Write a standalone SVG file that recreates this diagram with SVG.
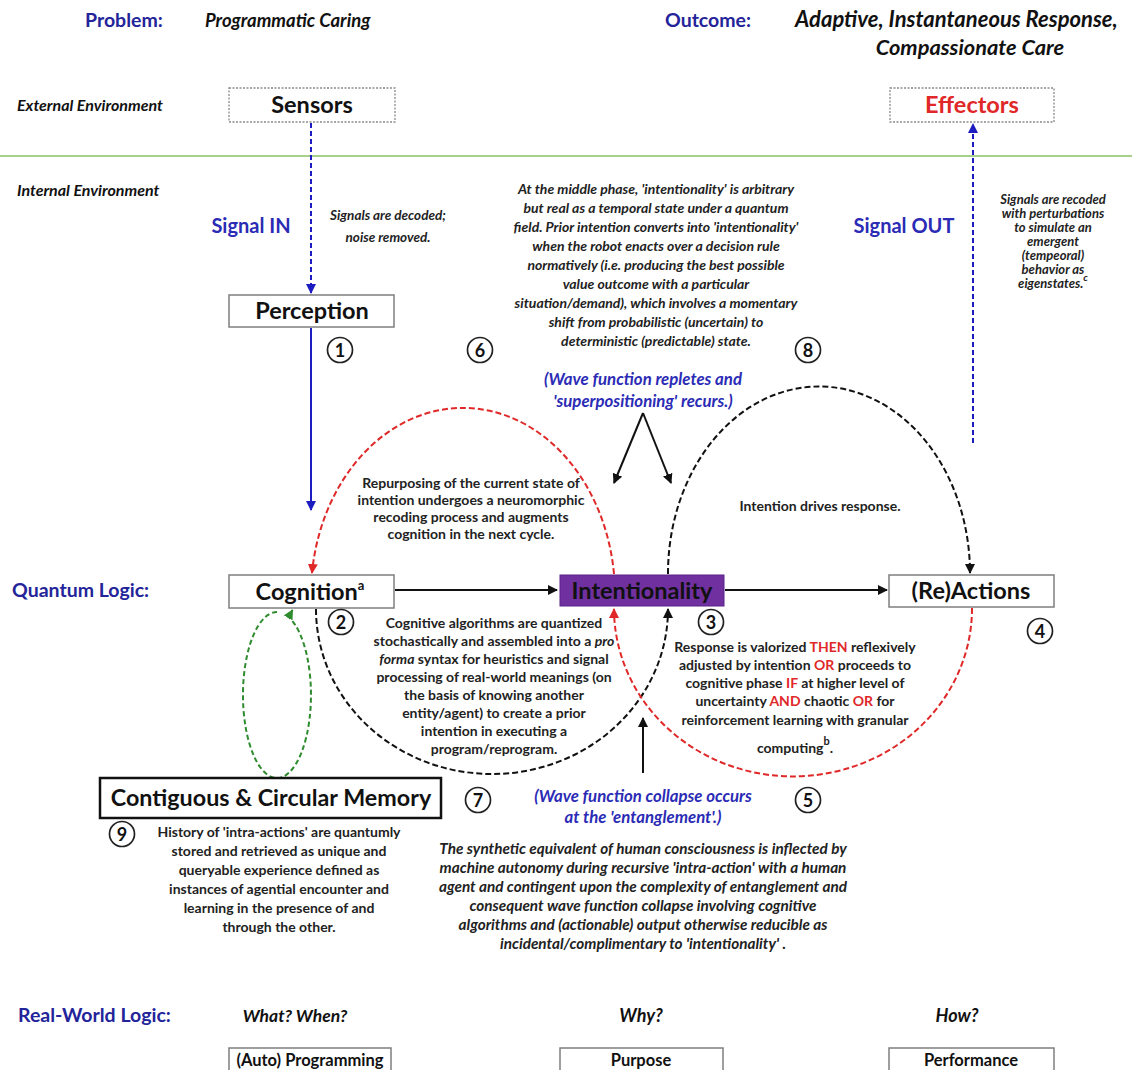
<svg xmlns="http://www.w3.org/2000/svg" width="1132" height="1070" viewBox="0 0 1132 1070">
<style>
.t{font-family:Lato,"Liberation Sans",sans-serif;font-weight:bold}
.i{font-style:italic}
.c{text-anchor:middle}
.p{font-size:14px;fill:#222}
.pi{fill:#222;font-style:italic}
.lbl{font-size:19.5px;fill:#24249a}
.sig{font-size:20px;fill:#2b2bb5}
.wave{font-size:16.8px;fill:#2b2bb5;font-style:italic}
.env{font-size:16px;fill:#111;font-style:italic}
.box{fill:#fff;stroke:#7f7f7f;stroke-width:1.5}
.dot{fill:#fff;stroke:#8a8a8a;stroke-width:1.3;stroke-dasharray:2 1.5}
.bl{font-size:23.5px;fill:#111}
.num circle{fill:#fff;stroke:#222;stroke-width:1.7}
.num text{font-size:18px;text-anchor:middle;fill:#111}
.red{fill:#e02828}
.cn{fill:none;stroke-width:2}
</style>
<defs>
<marker id="ab" viewBox="0 0 10 10" refX="9" refY="5" markerWidth="5" markerHeight="5" orient="auto"><path d="M0,0 L10,5 L0,10 z" fill="#111"/></marker>
<marker id="au" viewBox="0 0 10 10" refX="9" refY="5" markerWidth="5" markerHeight="5" orient="auto"><path d="M0,0 L10,5 L0,10 z" fill="#1c1cc0"/></marker>
<marker id="ar" viewBox="0 0 10 10" refX="9" refY="5" markerWidth="5" markerHeight="5" orient="auto"><path d="M0,0 L10,5 L0,10 z" fill="#e02828"/></marker>
<marker id="ag" viewBox="0 0 10 10" refX="9" refY="5" markerWidth="5" markerHeight="5" orient="auto"><path d="M0,0 L10,5 L0,10 z" fill="#2e8b2e"/></marker>
</defs>
<rect width="1132" height="1070" fill="#fff"/>

<!-- headers -->
<g class="t">
<text x="85" y="27" class="lbl">Problem:</text>
<text x="205" y="27" class="i" font-size="18.5" fill="#111">Programmatic Caring</text>
<text x="665" y="27" class="lbl">Outcome:</text>
<text x="795" y="27" class="i" font-size="22" fill="#111">Adaptive, Instantaneous Response,</text>
<text x="970" y="55" class="i c" font-size="21.8" fill="#111">Compassionate Care</text>
<text x="17" y="111" class="env">External Environment</text>
<text x="17" y="196" class="env">Internal Environment</text>
<text x="12" y="597" class="lbl">Quantum Logic:</text>
<text x="18" y="1022" class="lbl">Real-World Logic:</text>
<text x="295" y="1022" class="i c" font-size="17.5" fill="#111">What? When?</text>
<text x="641" y="1022" class="i c" font-size="18" fill="#111">Why?</text>
<text x="957" y="1022" class="i c" font-size="18" fill="#111">How?</text>
</g>
<line x1="0" y1="156" x2="1132" y2="156" stroke="#a8d08d" stroke-width="2"/>

<!-- connectors -->
<g id="connectors">
<line class="cn" x1="311" y1="123" x2="311" y2="293" stroke="#1c1cc0" stroke-dasharray="5 3" marker-end="url(#au)"/>
<line class="cn" x1="311" y1="328" x2="311" y2="510" stroke="#1c1cc0" marker-end="url(#au)"/>
<line class="cn" x1="973" y1="443" x2="973" y2="124" stroke="#1c1cc0" stroke-dasharray="5 3" marker-end="url(#au)"/>
<line class="cn" x1="395" y1="590" x2="557" y2="590" stroke="#111" marker-end="url(#ab)"/>
<line class="cn" x1="725" y1="590" x2="887" y2="590" stroke="#111" marker-end="url(#ab)"/>
<path class="cn" d="M614,574 A152 187 0 0 0 312,573" stroke="#e02828" stroke-dasharray="6 3" marker-end="url(#ar)"/>
<path class="cn" d="M668,574 A151 187 0 0 1 970,573" stroke="#111" stroke-dasharray="6 3" marker-end="url(#ab)"/>
<path class="cn" d="M316,609 A176 165 0 0 0 668,609" stroke="#111" stroke-dasharray="6 3" marker-end="url(#ab)"/>
<path class="cn" d="M972,608 A179 168 0 0 1 614,609" stroke="#e02828" stroke-dasharray="6 3" marker-end="url(#ar)"/>
<path class="cn" d="M277,612 A34 83 0 1 0 288.6,617 L292.5,610" stroke="#2e8b2e" stroke-dasharray="5 3" marker-end="url(#ag)"/>
<path class="cn" d="M643,413 L614,483" stroke="#111" marker-end="url(#ab)"/>
<path class="cn" d="M643,413 L671,483" stroke="#111" marker-end="url(#ab)"/>
<line class="cn" x1="643" y1="773" x2="643" y2="718" stroke="#111" marker-end="url(#ab)"/>
</g>

<!-- nodes -->
<g id="sensors" class="t"><rect class="dot" x="229" y="88" width="166" height="34"/><text x="312" y="113" class="bl c">Sensors</text></g>
<g id="effectors" class="t"><rect class="dot" x="890" y="88" width="164" height="34"/><text x="972" y="113" class="bl c red">Effectors</text></g>
<g id="perception" class="t"><rect class="box" x="229" y="295" width="165" height="32"/><text x="312" y="319" class="bl c">Perception</text></g>
<g id="cognition" class="t"><rect class="box" x="229" y="575" width="165" height="33"/><text x="310" y="600" class="bl c">Cognition<tspan font-size="13" dy="-10">a</tspan></text></g>
<g id="intentionality" class="t"><rect x="560" y="575" width="164" height="31" fill="#7030a0" stroke="#5b2387" stroke-width="1"/><text x="642" y="599" class="bl c" fill="#fff">Intentionality</text></g>
<g id="reactions" class="t"><rect class="box" x="889" y="575" width="165" height="32"/><text x="971" y="599" class="bl c">(Re)Actions</text></g>
<g id="memory" class="t"><rect x="100" y="778" width="341" height="40" fill="#fff" stroke="#111" stroke-width="2.5"/><text x="271" y="806" class="c" font-size="23.3" fill="#111">Contiguous &amp; Circular Memory</text></g>
<g id="programming" class="t"><rect class="box" x="229" y="1048" width="162" height="26" stroke-width="1"/><text x="310" y="1066" class="c" font-size="16.5" fill="#111">(Auto) Programming</text></g>
<g id="purpose" class="t"><rect class="box" x="560" y="1048" width="163" height="26" stroke-width="1"/><text x="641" y="1066" class="c" font-size="16.5" fill="#111">Purpose</text></g>
<g id="performance" class="t"><rect class="box" x="889" y="1048" width="165" height="26" stroke-width="1"/><text x="971" y="1066" class="c" font-size="16.5" fill="#111">Performance</text></g>

<!-- numbers -->
<g class="num t"><circle cx="340" cy="350" r="12.5"/><text x="340" y="356.5">1</text></g>
<g class="num t"><circle cx="341" cy="622" r="12.5"/><text x="341" y="628.5">2</text></g>
<g class="num t"><circle cx="711" cy="622" r="12.5"/><text x="711" y="628.5">3</text></g>
<g class="num t"><circle cx="1040" cy="631" r="12.5"/><text x="1040" y="637.5">4</text></g>
<g class="num t"><circle cx="808" cy="800" r="12.5"/><text x="808" y="806.5">5</text></g>
<g class="num t"><circle cx="480" cy="350" r="12.5"/><text x="480" y="356.5">6</text></g>
<g class="num t"><circle cx="478" cy="800" r="12.5"/><text x="478" y="806.5">7</text></g>
<g class="num t"><circle cx="808" cy="350" r="12.5"/><text x="808" y="356.5">8</text></g>
<g class="num t"><circle cx="122" cy="834" r="12.5"/><text x="122" y="840.5">9</text></g>

<!-- texts -->
<g class="t">
<text x="251" y="233" class="sig c">Signal IN</text>
<text x="904" y="233" class="sig c">Signal OUT</text>
<text class="pi c" font-size="13.5"><tspan x="388" y="220">Signals are decoded;</tspan><tspan x="388" y="242">noise removed.</tspan></text>
<text class="pi c" font-size="14"><tspan x="656" y="194">At the middle phase, 'intentionality' is arbitrary</tspan><tspan x="656" y="213">but real as a temporal state under a quantum</tspan><tspan x="656" y="232">field. Prior intention converts into 'intentionality'</tspan><tspan x="656" y="251">when the robot enacts over a decision rule</tspan><tspan x="656" y="270">normatively (i.e. producing the best possible</tspan><tspan x="656" y="289">value outcome with a particular</tspan><tspan x="656" y="308">situation/demand), which involves a momentary</tspan><tspan x="656" y="327">shift from probabilistic (uncertain) to</tspan><tspan x="656" y="346">deterministic (predictable) state.</tspan></text>
<text class="pi c" font-size="13"><tspan x="1053" y="204">Signals are recoded</tspan><tspan x="1053" y="218">with perturbations</tspan><tspan x="1053" y="232">to simulate an</tspan><tspan x="1053" y="246">emergent</tspan><tspan x="1053" y="260">(tempeoral)</tspan><tspan x="1053" y="274">behavior as</tspan><tspan x="1053" y="288">eigenstates.<tspan font-size="10" dy="-7">c</tspan></tspan></text>
<text class="wave c"><tspan x="643" y="385">(Wave function repletes and</tspan><tspan x="643" y="407">'superpositioning' recurs.)</tspan></text>
<text class="p c" font-size="13.3"><tspan x="471" y="488">Repurposing of the current state of</tspan><tspan x="471" y="505">intention undergoes a neuromorphic</tspan><tspan x="471" y="522">recoding process and augments</tspan><tspan x="471" y="539">cognition in the next cycle.</tspan></text>
<text class="p c" x="820" y="511" font-size="14.5">Intention drives response.</text>
<text class="p c"><tspan x="494" y="628">Cognitive algorithms are quantized</tspan><tspan x="494" y="646">stochastically and assembled into a <tspan font-style="italic">pro</tspan></tspan><tspan x="494" y="664"><tspan font-style="italic">forma</tspan> syntax for heuristics and signal</tspan><tspan x="494" y="682">processing of real-world meanings (on</tspan><tspan x="494" y="700">the basis of knowing another</tspan><tspan x="494" y="718">entity/agent) to create a prior</tspan><tspan x="494" y="736">intention in executing a</tspan><tspan x="494" y="754">program/reprogram.</tspan></text>
<text class="p c" font-size="14.8"><tspan x="795" y="652">Response is valorized <tspan class="red">THEN</tspan> reflexively</tspan><tspan x="795" y="670">adjusted by intention <tspan class="red">OR</tspan> proceeds to</tspan><tspan x="795" y="688">cognitive phase <tspan class="red">IF</tspan> at higher level of</tspan><tspan x="795" y="706">uncertainty <tspan class="red">AND</tspan> chaotic <tspan class="red">OR</tspan> for</tspan><tspan x="795" y="725">reinforcement learning with granular</tspan><tspan x="795" y="753">computing<tspan font-size="11" dy="-8">b</tspan><tspan dy="8">.</tspan></tspan></text>
<text class="wave c"><tspan x="643" y="802">(Wave function collapse occurs</tspan><tspan x="643" y="823">at the 'entanglement'.)</tspan></text>
<text class="p c" font-size="15.3"><tspan x="279" y="837">History of 'intra-actions' are quantumly</tspan><tspan x="279" y="856">stored and retrieved as unique and</tspan><tspan x="279" y="875">queryable experience defined as</tspan><tspan x="279" y="894">instances of agential encounter and</tspan><tspan x="279" y="913">learning in the presence of and</tspan><tspan x="279" y="932">through the other.</tspan></text>
<text class="pi c" font-size="15.3"><tspan x="643" y="854">The synthetic equivalent of human consciousness is inflected by</tspan><tspan x="643" y="873">machine autonomy during recursive 'intra-action' with a human</tspan><tspan x="643" y="892">agent and contingent upon the complexity of entanglement and</tspan><tspan x="643" y="911">consequent wave function collapse involving cognitive</tspan><tspan x="643" y="930">algorithms and (actionable) output otherwise reducible as</tspan><tspan x="643" y="949">incidental/complimentary to 'intentionality' .</tspan></text>
</g>
</svg>
